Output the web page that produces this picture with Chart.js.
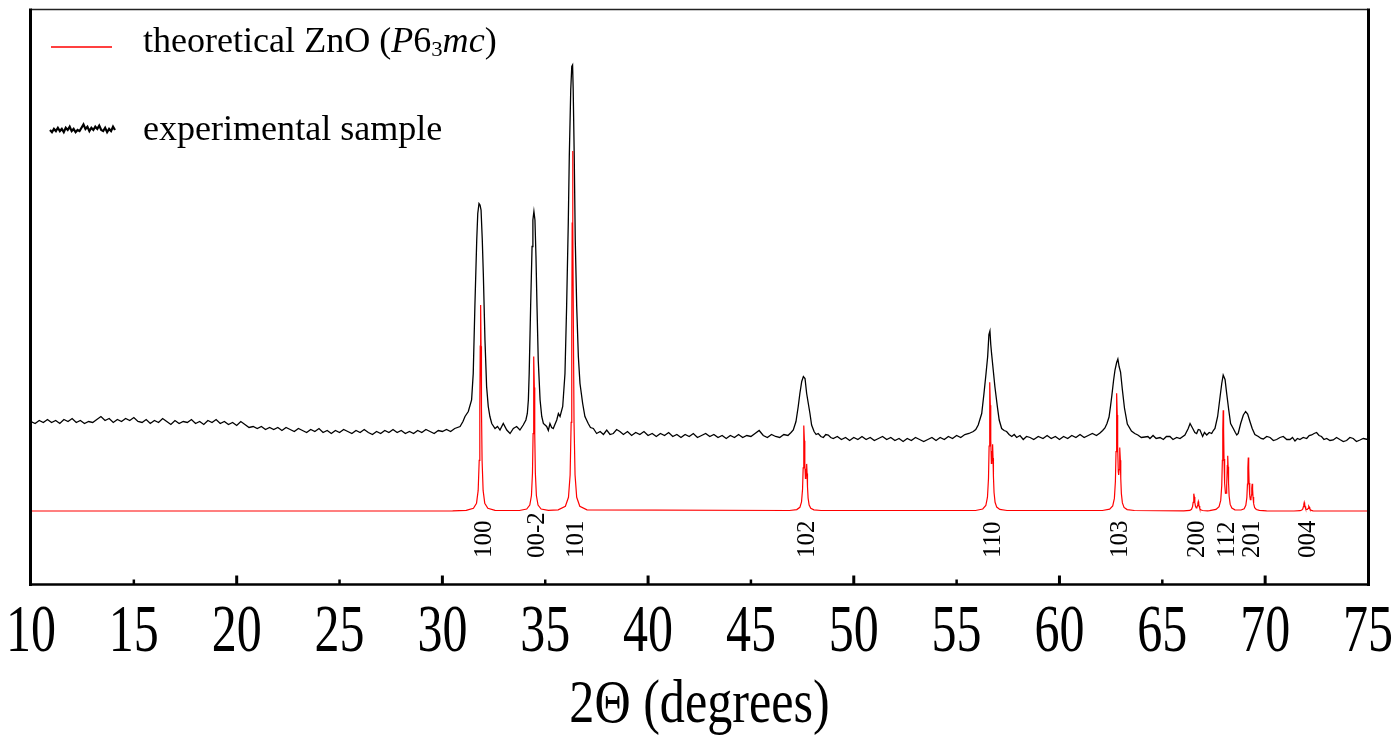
<!DOCTYPE html>
<html>
<head>
<meta charset="utf-8">
<script src="https://cdn.jsdelivr.net/npm/chart.js@4.4.1/dist/chart.umd.min.js"></script>
<style>
  html,body{margin:0;padding:0;background:#fff;}
  #wrap{width:1398px;height:742px;}
</style>
</head>
<body>
<div id="wrap"><canvas id="xrd" width="1398" height="742"></canvas></div>
<script>
// x axis ticks (2theta, degrees)
const xTickValues = [10,15,20,25,30,35,40,45,50,55,60,65,70,75];
const xTitle = '2\u0398 (degrees)';

// reflections of wurtzite ZnO, label + position
const hklLabels = ['100','00-2','101','102','110','103','200','112','201','004'];
const hklAngles = [31.86,34.45,36.33,47.58,56.62,62.79,66.54,67.96,69.18,71.90];

// experimental pattern [2theta, intensity]
const expLowAngle = [
  [10.0,163],[10.2,161],[10.4,164],[10.6,162],[10.8,165],[11.0,162],[11.2,164],[11.4,161],[11.6,165],[11.8,163],
  [12.0,166],[12.2,162],[12.4,164],[12.6,161],[12.8,163],[13.0,162],[13.2,165],[13.4,168],[13.6,164],[13.8,166],
  [14.0,162],[14.2,165],[14.4,163],[14.6,166],[14.8,164],[15.0,167],[15.2,163],[15.4,162],[15.6,165],[15.8,161],
  [16.0,164],[16.2,162],[16.4,166],[16.6,163],[16.8,160],[17.0,164],[17.2,161],[17.4,163],[17.6,162],[17.8,165],
  [18.0,161],[18.2,163],[18.4,160],[18.6,164],[18.8,162],[19.0,165],[19.2,161],[19.4,163],[19.6,160],[19.8,162],
  [20.0,159],[20.2,163],[20.4,160],[20.6,157],[20.8,158],[21.0,156],[21.2,158],[21.4,155],[21.6,157],[21.8,155],
  [22.0,157],[22.2,154],[22.4,157],[22.6,155],[22.8,153],[23.0,156],[23.2,154],[23.4,152],[23.6,155],[23.8,153],
  [24.0,156],[24.2,152],[24.4,154],[24.6,151],[24.8,154],[25.0,152],[25.2,155],[25.4,153],[25.6,151],[25.8,154],
  [26.0,152],[26.2,155],[26.4,152],[26.6,150],[26.8,153],[27.0,151],[27.2,154],[27.4,152],[27.6,155],[27.8,152],
  [28.0,154],[28.2,151],[28.4,153],[28.6,151],[28.8,154],[29.0,152],[29.2,155],[29.4,153],[29.6,151],[29.8,154],
  [30.0,153],[30.2,155],[30.4,153],[30.6,156]
];
const expPeaks1 = [
  [30.86,158],[31.00,163],[31.10,168],[31.26,173],[31.42,184.5],[31.50,211],[31.58,278],[31.67,344.5],[31.72,371],
  [31.78,381],[31.83,379.5],[31.88,374.5],[31.94,344.5],[31.99,311],[32.07,244.5],[32.15,198],[32.23,178],[32.31,168],
  [32.40,161],[32.56,156],[32.68,158],[32.80,154.5],[32.96,161],[33.13,154.5],[33.29,151],[33.45,156],[33.61,158],
  [33.77,154.5],[33.93,159.5],[34.06,164.5],[34.13,171],[34.18,184.5],[34.22,211],[34.29,278],[34.36,338],[34.40,364.5],
  [34.45,373],[34.50,364.5],[34.55,328],[34.60,278],[34.66,224.5],[34.75,184.5],[34.83,168],[34.91,161],[35.07,158],
  [35.15,154],[35.23,161],[35.31,157],[35.39,156],[35.47,160],[35.56,164.5],[35.64,171],[35.72,168],[35.85,178],
  [35.96,211],[36.04,278],[36.12,361],[36.17,428],[36.24,494.5],[36.29,518],[36.33,519.5],[36.36,494.5],[36.41,428],
  [36.46,344.5],[36.53,278],[36.61,228],[36.69,201],[36.82,181],[36.93,168],[37.09,161],[37.20,157],[37.34,156],
  [37.50,151],[37.67,153],[37.83,150],[37.99,154.5],[38.15,150],[38.31,151],[38.47,155],[38.63,153]
];
const expMid1 = [
  [38.8,150],[39.0,153],[39.2,149],[39.4,152],[39.6,150],[39.8,153],[40.0,149],[40.2,151],[40.4,148],[40.6,151],
  [40.8,149],[41.0,152],[41.2,148],[41.4,150],[41.6,147],[41.8,150],[42.0,148],[42.2,151],[42.4,147],[42.6,149],
  [42.8,151],[43.0,148],[43.2,150],[43.4,147],[43.6,149],[43.8,146],[44.0,149],[44.2,147],[44.4,150],[44.6,147],
  [44.8,149],[45.0,148],[45.2,151],[45.4,154],[45.6,149],[45.8,147],[46.0,150],[46.2,148],[46.4,147],[46.6,150],
  [46.8,149],[46.95,152]
];
const expPeak102 = [
  [47.06,154.5],[47.19,163],[47.30,178],[47.38,191],[47.47,203],[47.55,208],[47.63,206],[47.71,191],[47.79,181],
  [47.87,171],[47.95,159.5],[48.07,153],[48.17,150],[48.27,151],[48.40,148],[48.52,147],[48.64,150],[48.76,149.5],
  [48.88,147],[49.00,146]
];
const expMid2 = [
  [49.2,148],[49.4,145],[49.6,147],[49.8,144],[50.0,147],[50.2,145],[50.4,148],[50.6,145],[50.8,147],[51.0,144],
  [51.2,146],[51.4,148],[51.6,145],[51.8,147],[52.0,144],[52.2,146],[52.4,143],[52.6,146],[52.8,144],[53.0,147],
  [53.2,145],[53.4,143],[53.6,145],[53.8,147],[54.0,144],[54.2,147],[54.4,145],[54.6,148],[54.8,146],[55.0,149],
  [55.2,147],[55.4,150],[55.6,151]
];
const expPeak110 = [
  [55.81,153],[55.93,155],[56.05,159.5],[56.22,171],[56.33,191],[56.43,211],[56.51,228],[56.57,250],[56.62,253.5],
  [56.66,240],[56.70,231],[56.78,214.5],[56.86,198],[56.98,178],[57.07,164.5],[57.19,156],[57.31,154],[57.43,153],
  [57.55,150],[57.68,148],[57.80,150],[57.92,147],[58.08,149],[58.24,145],[58.40,148],[58.57,147],[58.75,145],
  [58.97,148]
];
const expMid3 = [
  [59.2,146],[59.4,149],[59.6,146],[59.8,148],[60.0,145],[60.2,148],[60.4,146],[60.6,149],[60.8,147],[61.0,150],
  [61.2,147],[61.4,149],[61.6,151],[61.8,149]
];
const expPeak103 = [
  [61.97,151.5],[62.10,154],[62.21,156.5],[62.31,161],[62.41,167.5],[62.48,178],[62.55,189.5],[62.63,204],
  [62.70,214.5],[62.78,222],[62.84,225.5],[62.90,218],[62.97,212.5],[63.06,194.5],[63.16,176.5],[63.30,160.5],
  [63.50,153.5],[63.66,151],[63.81,149.5],[63.98,147],[64.15,147.5]
];
const expHighAngle = [
  [64.30,148],[64.40,146],[64.55,149],[64.70,146],[64.89,147],[65.05,145],[65.20,148],[65.37,148],[65.52,145],
  [65.70,147],[65.86,146],[66.10,149.5],[66.26,156],[66.35,161],[66.48,156],[66.58,152],[66.67,151],[66.75,155],
  [66.83,154.5],[66.96,148],[67.05,152],[67.16,149.5],[67.28,152],[67.40,151],[67.48,154],[67.56,156],[67.69,168],
  [67.81,188],[67.89,201],[67.96,209.5],[68.05,205],[68.13,191],[68.23,174.5],[68.32,161],[68.45,156],[68.55,152],
  [68.62,149.5],[68.69,151],[68.81,161],[68.94,169.5],[69.05,173],[69.15,170.5],[69.26,163],[69.37,156],[69.50,150],
  [69.67,148],[69.80,146],[69.91,145.5],[70.08,148],[70.24,147],[70.40,144],[70.56,145],[70.72,147],[70.88,148],
  [71.05,145],[71.21,145],[71.33,147],[71.45,143.5],[71.57,146],[71.69,145],[71.85,147],[72.02,146],[72.14,149],
  [72.26,149.5],[72.38,151],[72.50,152],[72.62,149],[72.74,148],[72.86,145],[72.99,146],[73.15,144],[73.31,144.5],
  [73.47,147],[73.63,145],[73.80,143],[73.96,144],[74.12,147],[74.28,146],[74.44,143],[74.61,144.5],[74.77,146],
  [75.00,145]
];

// theoretical pattern of ZnO (P6_3mc) [2theta, intensity]
const theoStart = [[10.0,73.5],[30.5,73.6]];
const theo100 = [[31.16,74.1],[31.51,76.2],[31.66,81.3],[31.74,94.1],[31.79,124.2],[31.82,176.5],[31.84,238.3],[31.86,279.5],
  [31.88,238.3],[31.90,176.5],[31.93,124.2],[31.98,94.1],[32.06,81.3],[32.21,76.2],[32.56,74.1]];
const theo002 = [[33.75,74],[34.10,75.5],[34.25,79.4],[34.33,89],[34.38,111.5],[34.41,150.8],[34.43,197.1],[34.45,228],
  [34.47,197.1],[34.49,150.8],[34.52,111.5],[34.57,89],[34.65,79.4],[34.80,75.5],[35.15,74.2]];
const theo101 = [[35.63,74.6],[35.98,78.2],[36.13,87.2],[36.21,109.5],[36.26,162.1],[36.29,253.5],[36.31,361.5],[36.33,433.5],
  [36.35,361.5],[36.37,253.5],[36.40,162.1],[36.45,109.5],[36.53,87.2],[36.68,78.2],[37.03,74.6]];
const theo102 = [[46.88,74],[47.23,74.9],[47.38,77.2],[47.46,82.7],[47.51,95.2],[47.54,116.6],[47.56,141.7],[47.58,158.9],
  [47.60,143.8],[47.62,121.1],[47.65,106],[47.67,107],[47.69,115.1],[47.71,120.6],[47.73,110.9],[47.75,97.8],
  [47.78,86.4],[47.83,79.5],[47.91,76.2],[48.06,74.6],[48.41,74]];
const theo110 = [[55.92,74],[56.27,75.5],[56.42,79],[56.50,87.3],[56.55,106.1],[56.58,138.5],[56.60,176.4],[56.62,202.3],
  [56.64,179.3],[56.66,144.7],[56.69,121.2],[56.71,122],[56.73,132.8],[56.75,140.2],[56.77,126.5],[56.79,108.1],
  [56.82,92],[56.87,82.2],[56.95,77.4],[57.10,75.1],[57.45,74]];
const theo103 = [[62.09,74],[62.44,75.3],[62.59,78.5],[62.67,86.1],[62.72,103.3],[62.75,132.9],[62.77,167.7],[62.79,191.2],
  [62.81,169.5],[62.83,137.1],[62.86,112.7],[62.88,109.5],[62.90,114.8],[62.92,128.1],[62.94,137],[62.96,124.3],
  [62.98,106.3],[63.01,90.9],[63.06,81.6],[63.14,77.1],[63.29,74.9],[63.64,74]];
const theo200 = [[66.04,73.6],[66.34,74.1],[66.42,75.2],[66.47,77.9],[66.50,82.2],[66.52,87.3],[66.54,90.8],[66.56,87.4],
  [66.58,82.4],[66.61,78.4],[66.65,76.7],[66.68,77],[66.71,78.9],[66.73,81.4],[66.75,83.1],[66.77,81.2],[66.79,78.4],
  [66.82,76],[66.87,74.7],[66.95,74],[67.20,73.6]];
const theo112 = [[67.30,73.8],[67.61,75.1],[67.76,77.8],[67.84,84.1],[67.89,98.9],[67.92,124.2],[67.94,154.1],[67.96,174.2],
  [67.98,154.7],[68.00,125.4],[68.03,101.3],[68.07,91.2],[68.10,91.3],[68.13,99],[68.16,118.9],[68.18,128.7],
  [68.20,117.8],[68.22,101.8],[68.25,88.2],[68.30,80.1],[68.38,76.4],[68.53,74.7]];
const theo201 = [[68.83,74.5],[68.98,75.8],[69.06,79.2],[69.11,86.9],[69.14,100.5],[69.16,116.4],[69.18,127],[69.20,116.8],
  [69.22,101.5],[69.25,88.9],[69.28,84.8],[69.31,85.7],[69.33,89.5],[69.35,96.3],[69.37,100.7],[69.39,95.3],
  [69.41,87.5],[69.44,80.9],[69.49,76.9],[69.57,75],[69.72,74.1],[70.07,73.6]];
const theo004 = [[71.40,73.5],[71.70,73.8],[71.78,74.4],[71.83,75.6],[71.86,77.8],[71.88,80.3],[71.90,82.1],[71.92,80.4],
  [71.94,78],[71.97,75.9],[72.01,75],[72.05,75],[72.09,76.2],[72.11,77.4],[72.13,78.3],[72.15,77.3],[72.17,76],
  [72.20,74.7],[72.25,74.1],[72.33,73.7]];
const theoEnd = [[72.6,73.5],[75.0,73.5]];

const experimental = [].concat(expLowAngle, expPeaks1, expMid1, expPeak102, expMid2, expPeak110, expMid3, expPeak103, expHighAngle);
const theoretical = [].concat(theoStart, theo100, theo002, theo101, theo102, theo110, theo103, theo200, theo112, theo201, theo004, theoEnd);

const theoColor = '#ff0000';
const expColor = '#000000';
const serif = "'Liberation Serif', 'Times New Roman', serif";

function toXY(arr){ return arr.map(p => ({x: p[0], y: p[1]})); }

// text drawn with its own stretch factors (the original figure's fonts are not square)
function drawScaled(ctx, text, x, y, font, sx, sy, align){
  ctx.save();
  ctx.font = font;
  ctx.textAlign = align || 'center';
  ctx.textBaseline = 'alphabetic';
  ctx.translate(x, y);
  ctx.scale(sx, sy);
  ctx.fillText(text, 0, 0);
  ctx.restore();
}

function richText(ctx, parts, x, y, size, sx){
  let cx = x;
  parts.forEach(p => {
    const fs = p.sub ? Math.round(size*0.63) : size;
    ctx.font = (p.italic ? 'italic ' : '') + fs + 'px ' + serif;
    ctx.save();
    ctx.translate(cx, y + (p.sub ? size*0.1 : 0));
    ctx.scale(sx, 1);
    ctx.textAlign = 'left';
    ctx.textBaseline = 'alphabetic';
    ctx.fillText(p.t, 0, 0);
    ctx.restore();
    cx += ctx.measureText(p.t).width * sx;
  });
}

const framePlugin = {
  id: 'frame',
  afterDraw(chart){
    const ctx = chart.ctx, a = chart.chartArea, xs = chart.scales.x;
    ctx.save();
    ctx.fillStyle = '#000';
    ctx.lineCap = 'butt';

    // box
    ctx.strokeStyle = '#222'; ctx.lineWidth = 1.5;
    ctx.beginPath(); ctx.moveTo(a.left, a.top); ctx.lineTo(a.right, a.top); ctx.stroke();
    ctx.strokeStyle = '#000'; ctx.lineWidth = 3;
    ctx.beginPath(); ctx.moveTo(a.left - 0.5, a.top - 1); ctx.lineTo(a.left - 0.5, a.bottom + 1.5); ctx.stroke();
    ctx.beginPath(); ctx.moveTo(a.right + 0.5, a.top - 1); ctx.lineTo(a.right + 0.5, a.bottom + 1.5); ctx.stroke();
    ctx.lineWidth = 2.5;
    ctx.beginPath(); ctx.moveTo(a.left - 2, a.bottom); ctx.lineTo(a.right + 2, a.bottom); ctx.stroke();

    // inward ticks + labels
    xTickValues.forEach(v => {
      const px = xs.getPixelForValue(v);
      if (v > xTickValues[0] && v < xTickValues[xTickValues.length-1]) {
        const major = v % 10 === 0;
        ctx.lineWidth = major ? 3 : 2.5;
        ctx.beginPath(); ctx.moveTo(px, a.bottom); ctx.lineTo(px, a.bottom - (major ? 9 : 5)); ctx.stroke();
      }
      drawScaled(ctx, String(v), px, 651, '50px ' + serif, 1, 1.36, 'center');
    });

    // axis title
    drawScaled(ctx, xTitle, (a.left + a.right)/2, 722, '46px ' + serif, 1.09, 1.35, 'center');

    // hkl labels, rotated
    hklLabels.forEach((lab, i) => {
      const px = xs.getPixelForValue(hklAngles[i]);
      ctx.save();
      ctx.font = '25px ' + serif;
      ctx.textAlign = 'left';
      ctx.textBaseline = 'alphabetic';
      ctx.translate(px + 10.5, 558);
      ctx.rotate(-Math.PI/2);
      ctx.fillText(lab, 0, 0);
      ctx.restore();
    });

    // legend
    ctx.strokeStyle = theoColor; ctx.lineWidth = 1.6;
    ctx.beginPath(); ctx.moveTo(51, 47); ctx.lineTo(112, 47); ctx.stroke();
    const sample = expLowAngle.slice(0, 34);
    const sx0 = sample[0][0], sx1 = sample[sample.length-1][0];
    ctx.strokeStyle = expColor; ctx.lineWidth = 2.2;
    ctx.beginPath();
    sample.forEach((p, i) => {
      const px = 50 + (p[0]-sx0)/(sx1-sx0)*65, py = 130 - (p[1]-163)*1.1;
      if (i) ctx.lineTo(px, py); else ctx.moveTo(px, py);
    });
    ctx.stroke();
    ctx.fillStyle = '#000';
    richText(ctx, [
      {t:'theoretical ZnO ('}, {t:'P', italic:true}, {t:'6'}, {t:'3', sub:true}, {t:'mc', italic:true}, {t:')'}
    ], 143, 52, 35, 1.03);
    richText(ctx, [{t:'experimental sample'}], 143, 140, 35, 1.03);
    ctx.restore();
  }
};

new Chart(document.getElementById('xrd'), {
  type: 'line',
  data: {
    datasets: [
      { label: 'theoretical ZnO', data: toXY(theoretical), borderColor: theoColor, borderWidth: 1.2, pointRadius: 0, tension: 0 },
      { label: 'experimental sample', data: toXY(experimental), borderColor: expColor, borderWidth: 1.3, pointRadius: 0, tension: 0 }
    ]
  },
  options: {
    responsive: false,
    animation: false,
    devicePixelRatio: 1,
    parsing: true,
    layout: { padding: { left: 31, right: 30, top: 9.5, bottom: 157.5 } },
    scales: {
      x: { type: 'linear', min: 10, max: 75, display: false },
      y: { type: 'linear', min: 0, max: 575, display: false }
    },
    plugins: { legend: { display: false }, tooltip: { enabled: false } }
  },
  plugins: [framePlugin]
});
</script>
</body>
</html>
